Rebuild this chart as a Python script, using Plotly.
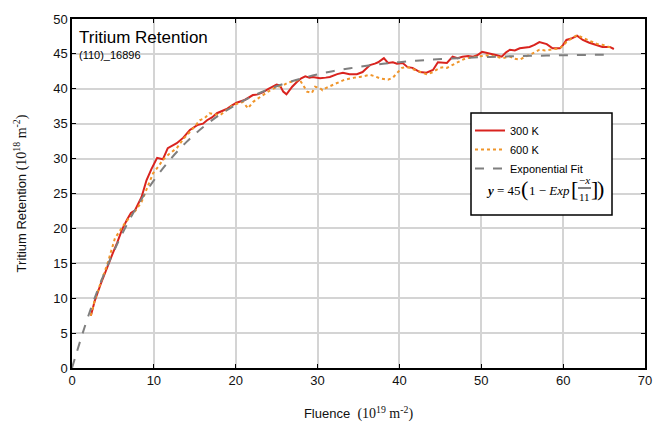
import plotly.graph_objects as go

# ---- data ----
x_300 = [2.3, 2.8, 3.5, 4.3, 5.0, 5.5, 6.1, 6.7, 7.2, 7.7,
         8.1, 8.5, 9.1, 9.7, 10.4, 11.1, 11.7, 12.3, 12.8, 13.6,
         14.4, 15.3, 16.0, 16.5, 17.1, 17.7, 18.3, 18.9, 19.5, 20.1,
         21.1, 22.1, 22.7, 23.3, 24.0, 24.5, 25.0, 25.4, 25.8, 26.2,
         26.6, 26.9, 27.5, 28.0, 28.5, 29.0, 29.4, 30.3, 31.0, 31.5,
         32.4, 33.1, 33.9, 34.8, 35.5, 36.0, 36.4, 37.0, 37.4, 38.1,
         38.6, 39.2, 39.7, 40.4, 41.0, 41.6, 42.0, 42.5, 43.3, 43.7,
         44.1, 44.7, 45.3, 45.8, 46.5, 47.1, 47.7, 48.4, 49.0, 49.5,
         50.1, 51.0, 51.9, 52.5, 53.0, 53.5, 54.1, 54.7, 55.3, 55.9,
         56.5, 57.1, 58.0, 58.7, 59.6, 60.0, 60.4, 61.0, 61.7, 62.4,
         63.2, 64.1, 64.8, 65.7, 66.2]
y_300 = [7.5, 9.7, 12.0, 14.5, 16.5, 17.9, 19.8, 21.2, 22.2, 22.6,
         23.6, 24.5, 26.9, 28.5, 30.1, 29.9, 31.5, 31.9, 32.2, 33.0,
         34.1, 34.8, 35.0, 35.5, 35.9, 36.5, 36.8, 37.1, 37.6, 38.0,
         38.4, 39.1, 39.2, 39.5, 40.0, 40.3, 40.6, 40.5, 39.6, 39.2,
         39.8, 40.3, 41.0, 41.5, 41.8, 41.6, 41.7, 41.5, 41.6, 41.7,
         42.1, 42.3, 42.1, 42.1, 42.4, 42.9, 43.4, 43.6, 43.8, 44.4,
         43.7, 43.8, 43.6, 43.7, 43.1, 43.0, 42.7, 42.4, 42.3, 42.5,
         42.7, 43.8, 43.8, 43.7, 44.6, 44.4, 44.6, 44.7, 44.6, 44.8,
         45.3, 45.1, 44.8, 44.6, 45.2, 45.6, 45.5, 45.8, 45.9, 46.0,
         46.3, 46.7, 46.4, 45.8, 45.8, 46.3, 47.0, 47.2, 47.6, 47.0,
         46.6, 46.3, 46.0, 46.0, 45.7]

x_600 = [2.3, 2.8, 3.5, 4.3, 5.25, 5.8, 6.5, 7.2, 7.8, 8.5,
         9.1, 9.9, 10.5, 11.1, 11.8, 12.8, 13.6, 14.4, 15.0, 15.6,
         16.2, 16.8, 17.4, 18.1, 18.9, 19.7, 20.3, 20.9, 21.5, 22.1,
         22.7, 23.3, 24.0, 24.5, 25.2, 25.8, 26.4, 27.0, 27.8, 28.2,
         28.7, 29.3, 29.7, 30.3, 30.6, 31.0, 31.5, 32.1, 32.7, 33.3,
         33.9, 34.5, 35.2, 35.8, 36.4, 37.0, 37.6, 38.1, 38.6, 39.2,
         39.7, 40.3, 40.8, 41.3, 41.9, 42.5, 43.3, 43.7, 44.1, 44.9,
         45.4, 45.8, 46.4, 47.0, 47.6, 48.2, 48.9, 49.5, 50.1, 50.7,
         51.3, 51.9, 52.6, 53.5, 54.1, 54.7, 55.3, 55.9, 56.5, 57.1,
         57.8, 58.4, 59.0, 59.6, 60.0, 60.4, 61.0, 61.7, 62.4, 63.0,
         63.6, 64.2, 64.8, 65.5, 66.1]
y_600 = [7.5, 9.8, 12.2, 14.8, 18.6, 19.6, 20.8, 21.8, 22.6, 23.8,
         25.6, 27.9, 28.8, 29.8, 30.6, 31.5, 32.8, 33.8, 34.6, 35.5,
         35.8, 36.5, 36.4, 36.2, 37.0, 37.7, 37.9, 38.1, 37.2, 38.1,
         38.6, 39.1, 39.6, 40.0, 40.3, 40.5, 40.9, 41.1, 41.3, 40.6,
         39.6, 39.4, 40.3, 40.1, 39.8, 40.1, 40.4, 40.7, 41.0, 41.3,
         41.5, 41.6, 41.7, 41.9, 42.0, 41.8, 41.5, 41.4, 41.3, 41.6,
         42.3, 43.0, 43.1, 43.0, 42.7, 42.4, 42.1, 42.2, 42.4, 43.0,
         43.1, 43.0, 43.4, 43.8, 44.1, 44.4, 44.5, 44.6, 44.7, 44.8,
         44.7, 44.6, 44.4, 44.6, 44.3, 44.2, 44.5, 44.8, 45.2, 45.6,
         45.5, 45.6, 45.7, 45.8, 46.2, 46.7, 47.2, 47.7, 47.3, 47.0,
         46.7, 46.4, 46.3, 46.0, 45.8]

# tabulated values of the exponential fit y = 45(1 - exp(-x/11))
x_fit = [0, 2, 4, 6, 8, 10, 12, 14, 16, 18, 20, 22, 24, 26, 28, 30, 32, 34,
         36, 38, 40, 42, 44, 46, 48, 50, 52, 54, 56, 58, 60, 62, 64, 66]
y_fit = [0.0, 7.48, 13.72, 18.92, 23.26, 26.87, 29.88, 32.40, 34.49, 36.24,
         37.70, 38.91, 39.92, 40.77, 41.47, 42.06, 42.55, 42.95, 43.29, 43.58,
         43.82, 44.01, 44.18, 44.31, 44.43, 44.52, 44.60, 44.67, 44.72, 44.77,
         44.81, 44.84, 44.87, 44.89]

x_ticks = [0, 10, 20, 30, 40, 50, 60, 70]
y_ticks = [0, 5, 10, 15, 20, 25, 30, 35, 40, 45, 50]

SANS = "Liberation Sans, Arial, sans-serif"
SERIF = "Liberation Serif, Times New Roman, serif"

fig = go.Figure()
fig.add_trace(go.Scatter(x=x_300, y=y_300, mode="lines", name="300 K",
                         line=dict(color="#d9231e", width=2)))
fig.add_trace(go.Scatter(x=x_600, y=y_600, mode="lines", name="600 K",
                         line=dict(color="#f0952a", width=2, dash="dot")))
fig.add_trace(go.Scatter(x=x_fit, y=y_fit, mode="lines", name="Exponential Fit",
                         line=dict(color="#7f7f7f", width=2, dash="dash", shape="spline")))

# plot-area edges in the reference picture (window pixels)
L, R, T, B = 72, 645, 19, 368
W, H = 654, 423


def px(xp):
    return (xp - L) / (R - L)


def py(yp):
    return (B - yp) / (B - T)


axis_common = dict(showline=True, linecolor="black", linewidth=1.5, mirror="ticks",
                   ticks="inside", ticklen=4, tickwidth=1.2, tickcolor="black",
                   showgrid=True, gridcolor="#d4d4d4", gridwidth=1.5, zeroline=False,
                   automargin=False,
                   tickfont=dict(family=SANS, size=13, color="#111"))

UNIT = '<span style="font-family:Liberation Serif;font-size:14px">(10<sup>{e}</sup> m<sup>-2</sup>)</span>'

fig.update_xaxes(range=[0, 70], tickvals=x_ticks, **axis_common,
                 title=dict(text='Fluence  ' + UNIT.format(e=19),
                            font=dict(family=SANS, size=13, color="#111"), standoff=22))
fig.update_yaxes(range=[0, 50], tickvals=y_ticks, **axis_common,
                 title=dict(text='Tritium Retention ' + UNIT.format(e=18),
                            font=dict(family=SANS, size=13, color="#111"), standoff=24))

shapes = [dict(type="rect", xref="paper", yref="paper", layer="above",
               x0=px(471), x1=px(612), y0=py(215), y1=py(113),
               line=dict(color="black", width=1.5), fillcolor="white"),
          dict(type="line", xref="paper", yref="paper", layer="above",
               x0=px(578), x1=px(591), y0=py(188), y1=py(188),
               line=dict(color="black", width=1))]

ann = []


def add(text, xp, yp, size, family=SANS, xanchor="left"):
    ann.append(dict(text=text, x=px(xp), y=py(yp), xref="paper", yref="paper",
                    xanchor=xanchor, yanchor="middle", showarrow=False, borderpad=0,
                    font=dict(family=family, size=size, color="black")))


add("Tritium Retention", 78, 37, 17)
add("(110)_16896", 78, 55, 11)
# formula
add("<i><b>y</b></i> = 45", 503.5, 190, 13, SERIF, "center")
add("(", 524.5, 188, 22, SERIF, "center")
add("1 − <i>Exp</i>", 549, 190, 13, SERIF, "center")
add("[", 574.5, 188, 22, SERIF, "center")
add("−<i>x</i>", 584.5, 180, 11, SERIF, "center")
add("11", 584.5, 197, 11, SERIF, "center")
add("]", 594, 188, 22, SERIF, "center")
add(")", 600, 188, 22, SERIF, "center")

fig.update_layout(width=W, height=H,
                  margin=dict(l=L, r=W - R, t=T, b=H - B),
                  paper_bgcolor="white", plot_bgcolor="white",
                  shapes=shapes, annotations=ann,
                  legend=dict(x=px(470), y=py(116), xanchor="left", yanchor="top",
                              bgcolor="rgba(0,0,0,0)", borderwidth=0,
                              font=dict(family=SANS, size=11, color="black"),
                              itemwidth=30, tracegroupgap=0))

fig.write_html("out.html", config={"displayModeBar": False},
               post_script="document.body.style.margin='0';document.body.style.overflow='hidden';")
